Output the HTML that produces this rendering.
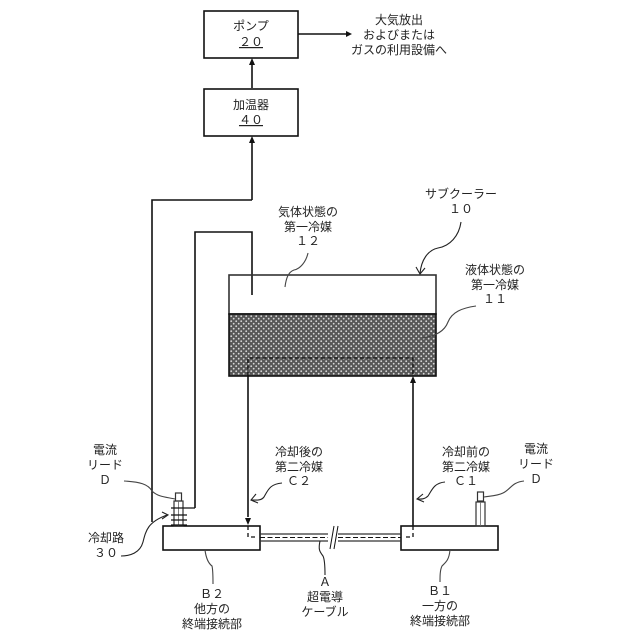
<!DOCTYPE html>
<html lang="ja">
<head>
<meta charset="utf-8">
<style>
html,body{margin:0;padding:0;background:#fff;width:640px;height:640px;overflow:hidden}
svg{display:block}
text{font-family:"Liberation Sans","Noto Sans CJK JP",sans-serif;font-size:12px;fill:#222;text-anchor:middle}
</style>
</head>
<body>
<svg width="640" height="640" viewBox="0 0 640 640" xmlns="http://www.w3.org/2000/svg">
<defs>
<pattern id="dots" width="5" height="5" patternUnits="userSpaceOnUse">
<rect width="5" height="5" fill="#575757"/>
<circle cx="1.2" cy="1.2" r="0.9" fill="#d8d8d8"/>
<circle cx="3.7" cy="3.7" r="0.9" fill="#d8d8d8"/>
</pattern>
</defs>
<g fill="none" stroke="#111" stroke-width="1.6">
<rect x="204" y="11" width="94" height="47"/>
<rect x="204" y="89" width="94" height="47"/>
<path d="M298 34H348"/>
<path d="M252 88V64"/>
<path d="M252 200V142"/>
<path d="M152 522V200H252"/>
<path d="M195 508V232H252V295"/>
<rect x="229" y="275" width="207" height="39" stroke="#333"/>
<rect x="229" y="314" width="207" height="62" fill="url(#dots)"/>
<path d="M248 376V517"/>
<path d="M413 526V382"/>
<path d="M248 376V358H413V376" stroke-dasharray="4 2.5" stroke-width="1.3"/>
<rect x="163" y="526" width="97" height="24"/>
<rect x="401" y="526" width="97" height="24"/>
<path d="M248 526V537H258M413 526V537H403" stroke-dasharray="4 3" stroke-width="1.3"/>
<path d="M260 534H328M260 541H328M338 534H401M338 541H401" stroke-width="1.2" stroke="#333"/>
<path d="M260 537.5H328M338 537.5H401" stroke-width="1.1" stroke-dasharray="5 2.5"/>
<path d="M334 526L330 549M338 526L334 549" stroke-width="1"/>
<rect x="175.500" y="493" width="6" height="8" stroke-width="1.2" stroke="#333"/>
<rect x="174" y="501" width="9" height="25" stroke-width="1.2" stroke="#333"/>
<path d="M178.500 501V526" stroke-width="0.8" stroke="#666"/>
<path d="M171 508H195M171 515H187M171 520H187M171 525H187" stroke-width="1.2"/>
<rect x="477.500" y="492" width="6" height="9" stroke-width="1.2" stroke="#333"/>
<rect x="476" y="502" width="9" height="24" stroke-width="1.2" stroke="#333"/>
<path d="M480.500 502V526" stroke-width="0.8" stroke="#666"/>
</g>
<g fill="#111">
<path d="M352 34L346 31V37Z"/>
<path d="M252 58L249 65H255Z"/>
<path d="M252 136L249 143H255Z"/>
<path d="M248 525L245 518H251Z"/>
<path d="M413 376L410 383H416Z"/>
</g>
<g fill="none" stroke="#222" stroke-width="1.1">
<path d="M461 222C459 236 450 246 438 248C428 250 421 260 420 274"/>
<path d="M416 267L420 274L425 268"/>
<path d="M308 253C306 262 300 269 294 270C288 272 286 279 285 287" stroke="#444"/>
<path d="M476 306C462 308 452 312 448 322C445 330 438 336 422 338" stroke="#444"/>
<path d="M282 483C270 484 268 490 264 497C261 501 256 500 251 500"/>
<path d="M256 494L251 500L258 503"/>
<path d="M445 482C434 483 432 490 428 496C424 500 420 499 417 499"/>
<path d="M423 494L417 499L424 502"/>
<path d="M524 481C512 482 510 490 503 493C497 496 490 496 484 497" stroke="#444"/>
<path d="M124 481C140 482 148 484 152 491C158 497 166 497 175 499" stroke="#444"/>
<path d="M121 556C130 556 140 553 143 542C146 530 148 522 167 515"/>
<path d="M162 512L168 515L162 519"/>
<path d="M205 550C206 558 208 563 212 566C213 570 213 580 213 584" stroke="#444"/>
<path d="M320 541C318 550 320 552 323 556C325 560 325 568 325 575"/>
<path d="M450 550C449 560 446 562 442 566C440 570 440 576 440 582" stroke="#444"/>
</g>
<text x="251" y="30">ポンプ</text>
<text x="251" y="46" text-decoration="underline">２０</text>
<text x="251" y="109">加温器</text>
<text x="251" y="124" text-decoration="underline">４０</text>
<text x="399" y="24">大気放出</text>
<text x="399" y="39">およびまたは</text>
<text x="399" y="54">ガスの利用設備へ</text>
<text x="461" y="198">サブクーラー</text>
<text x="461" y="213">１０</text>
<text x="308" y="216">気体状態の</text>
<text x="308" y="231">第一冷媒</text>
<text x="308" y="245">１２</text>
<text x="495" y="274">液体状態の</text>
<text x="495" y="289">第一冷媒</text>
<text x="495" y="303">１１</text>
<text x="299" y="456">冷却後の</text>
<text x="299" y="471">第二冷媒</text>
<text x="299" y="485">Ｃ２</text>
<text x="466" y="456">冷却前の</text>
<text x="466" y="471">第二冷媒</text>
<text x="466" y="485">Ｃ１</text>
<text x="536" y="453">電流</text>
<text x="536" y="468">リード</text>
<text x="536" y="483">Ｄ</text>
<text x="105" y="454">電流</text>
<text x="105" y="469">リード</text>
<text x="105" y="484">Ｄ</text>
<text x="106" y="542">冷却路</text>
<text x="106" y="557">３０</text>
<text x="212" y="598">Ｂ２</text>
<text x="212" y="613">他方の</text>
<text x="212" y="628">終端接続部</text>
<text x="325" y="586">Ａ</text>
<text x="325" y="601">超電導</text>
<text x="325" y="616">ケーブル</text>
<text x="440" y="595">Ｂ１</text>
<text x="440" y="610">一方の</text>
<text x="440" y="625">終端接続部</text>
</svg>
</body>
</html>
